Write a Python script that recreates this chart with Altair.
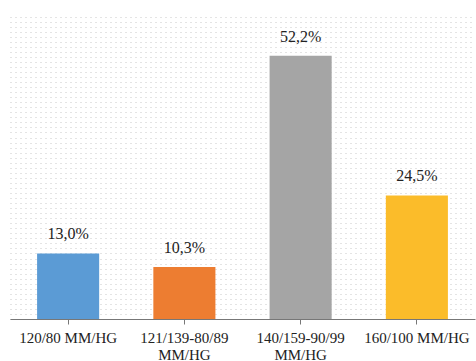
import altair as alt
import pandas as pd

categories = ["120/80 MM/HG", "121/139-80/89 MM/HG", "140/159-90/99 MM/HG", "160/100 MM/HG"]
values = [13.0, 10.3, 52.2, 24.5]
colors = ["#5B9BD5", "#ED7D31", "#A5A5A5", "#FBBC2A"]

df = pd.DataFrame({
    "cat": categories,
    "val": values,
    "label": [f"{v:.1f}".replace(".", ",") + "%" for v in values],
})

grid_vals = list(range(0, 61))
FONT = "Liberation Serif"

x = alt.X("cat:N", sort=categories, title=None,
          scale=alt.Scale(paddingInner=0.466, paddingOuter=0.233),
          axis=alt.Axis(labelAngle=0, labelFont=FONT, labelFontSize=15,
                        labelColor="#222222", labelPadding=6, tickSize=5,
                        domainColor="#777777", tickColor="#777777",
                        labelLimit=200, labelLineHeight=17,
                        labelExpr="length(datum.label) > 13 ? split(datum.label, ' ') : datum.label"))
y = alt.Y("val:Q", title=None, scale=alt.Scale(domain=[0, 60.5], nice=False, zero=True),
          axis=alt.Axis(values=grid_vals, labels=False, ticks=False, domain=False,
                        grid=True, gridColor="#c8c8c8", gridDash=[1, 4], gridWidth=1))

bars = alt.Chart(df).mark_bar().encode(
    x=x, y=y,
    color=alt.Color("cat:N", sort=categories, scale=alt.Scale(domain=categories, range=colors), legend=None),
)
text = alt.Chart(df).mark_text(dy=-14, baseline="alphabetic", font=FONT,
                               fontSize=16, color="#222222").encode(
    x=x, y=y, text="label:N")

chart = (bars + text).properties(
    width=465, height=305,
    autosize=alt.AutoSizeParams(type="none"),
    padding={"left": 10, "top": 14, "right": 1, "bottom": 42},
).configure_view(stroke=None)

chart.save("out.html", embed_options={"renderer": "svg", "actions": False})
